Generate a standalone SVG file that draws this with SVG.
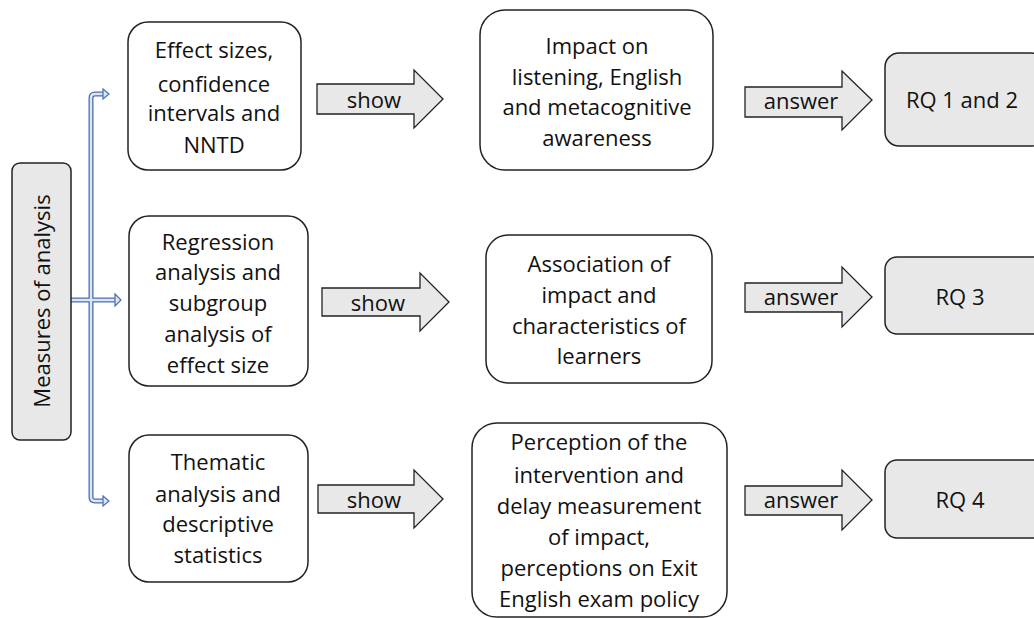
<svg xmlns="http://www.w3.org/2000/svg" width="1034" height="618" viewBox="0 0 1034 618">
<style>
text{font-family:"Open Sans","Liberation Sans",sans-serif;font-size:22px;fill:#111;text-anchor:middle}
.box{fill:#fff;stroke:#222;stroke-width:1.5}
.gbox{fill:#e8e8e8;stroke:#222;stroke-width:1.5}
.arr{fill:#e8e8e8;stroke:#222;stroke-width:1.3}
.bo{fill:none;stroke:#4a6fb0;stroke-width:5;stroke-linejoin:miter}
.bi{fill:none;stroke:#dde5f3;stroke-width:2.4;stroke-linejoin:miter}
.bh{fill:#dde5f3;stroke:#4a6fb0;stroke-width:1.2}
</style>
<rect width="1034" height="618" fill="#fff"/>
<g id="connectors">
  <path class="bo" d="M104,94 H95 Q91,94 91,98 V497 Q91,501 95,501 H104"/>
  <path class="bo" d="M71,300 H116"/>
  <path class="bi" d="M104,94 H95 Q91,94 91,98 V497 Q91,501 95,501 H104"/>
  <path class="bi" d="M71,300 H117"/>
  <path class="bh" d="M103,89 L109,94 L103,99 Z"/>
  <path class="bh" d="M115,294 L121,300 L115,306 Z"/>
  <path class="bh" d="M103,496 L109,501 L103,506 Z"/>
</g>
<g id="measures">
  <rect class="gbox" x="12" y="163" width="59" height="277" rx="8"/>
  <text transform="translate(50,301) rotate(-90)">Measures of analysis</text>
</g>
<g id="left1">
  <rect class="box" x="128" y="22" width="173" height="148" rx="20"/>
  <text x="214" y="58">Effect sizes,</text>
  <text x="214" y="92">confidence</text>
  <text x="214" y="121">intervals and</text>
  <text x="214" y="153">NNTD</text>
</g>
<g id="left2">
  <rect class="box" x="129" y="216" width="179" height="170" rx="20"/>
  <text x="218" y="250">Regression</text>
  <text x="218" y="280">analysis and</text>
  <text x="218" y="311">subgroup</text>
  <text x="218" y="342">analysis of</text>
  <text x="218" y="373">effect size</text>
</g>
<g id="left3">
  <rect class="box" x="129" y="435" width="179" height="147" rx="20"/>
  <text x="218" y="470">Thematic</text>
  <text x="218" y="502">analysis and</text>
  <text x="218" y="532">descriptive</text>
  <text x="218" y="563">statistics</text>
</g>
<g id="show1">
  <path class="arr" d="M317,84 H414 V70 L443,99 L414,128 V114 H317 Z"/>
  <text x="374" y="108">show</text>
</g>
<g id="show2">
  <path class="arr" d="M322,288 H420 V273 L449,302 L420,331 V316 H322 Z"/>
  <text x="378" y="311">show</text>
</g>
<g id="show3">
  <path class="arr" d="M318,485 H414 V470 L443,499 L414,528 V513 H318 Z"/>
  <text x="374" y="508">show</text>
</g>
<g id="mid1">
  <rect class="box" x="480" y="10" width="233" height="160" rx="25"/>
  <text x="597" y="54">Impact on</text>
  <text x="597" y="85">listening, English</text>
  <text x="597" y="115">and metacognitive</text>
  <text x="597" y="146">awareness</text>
</g>
<g id="mid2">
  <rect class="box" x="486" y="235" width="226" height="148" rx="22"/>
  <text x="599" y="272">Association of</text>
  <text x="599" y="303">impact and</text>
  <text x="599" y="334">characteristics of</text>
  <text x="599" y="364">learners</text>
</g>
<g id="mid3">
  <rect class="box" x="472" y="423" width="255" height="194" rx="25"/>
  <text x="599" y="450">Perception of the</text>
  <text x="599" y="483">intervention and</text>
  <text x="599" y="514">delay measurement</text>
  <text x="599" y="545">of impact,</text>
  <text x="599" y="576">perceptions on Exit</text>
  <text x="599" y="607">English exam policy</text>
</g>
<g id="answer1">
  <path class="arr" d="M745,87 H842 V71 L872,100 L842,130 V117 H745 Z"/>
  <text x="801" y="109">answer</text>
</g>
<g id="answer2">
  <path class="arr" d="M745,283 H842 V267 L872,297 L842,327 V312 H745 Z"/>
  <text x="801" y="305">answer</text>
</g>
<g id="answer3">
  <path class="arr" d="M745,486 H842 V470 L872,500 L842,530 V515 H745 Z"/>
  <text x="801" y="508">answer</text>
</g>
<g id="rq12">
  <rect class="gbox" x="885" y="53" width="160" height="93" rx="14"/>
  <text x="962" y="108">RQ 1 and 2</text>
</g>
<g id="rq3">
  <rect class="gbox" x="885" y="257" width="160" height="77" rx="12"/>
  <text x="960" y="305">RQ 3</text>
</g>
<g id="rq4">
  <rect class="gbox" x="885" y="460" width="160" height="78" rx="12"/>
  <text x="960" y="508">RQ 4</text>
</g>
</svg>
